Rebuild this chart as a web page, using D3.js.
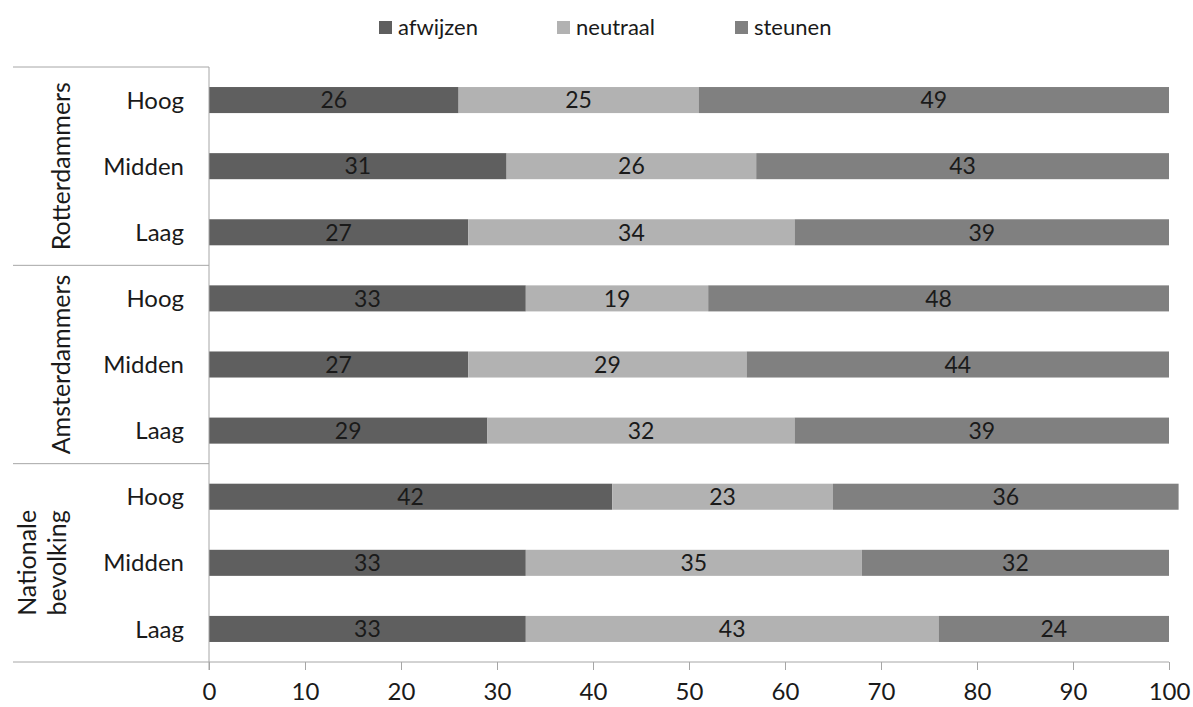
<!DOCTYPE html>
<html>
<head>
<meta charset="utf-8">
<script src="https://cdn.jsdelivr.net/npm/d3@7"></script>
<style>
  body { margin: 0; background: #fff; }
  svg { display: block; }
  text { font-family: Lato, "Open Sans", sans-serif; }
</style>
</head>
<body>
<svg id="chart" width="1193" height="707"></svg>
<script>
const groups = ["Rotterdammers", "Amsterdammers", "Nationale bevolking"];
const levels = ["Hoog", "Midden", "Laag"];
const seriesNames = ["afwijzen", "neutraal", "steunen"];
const seriesColors = ["#5f5f5f", "#b2b2b2", "#808080"];
const afwijzen = [26, 31, 27, 33, 27, 29, 42, 33, 33];
const neutraal = [25, 26, 34, 19, 29, 32, 23, 35, 43];
const steunen  = [49, 43, 39, 48, 44, 39, 36, 32, 24];
const xTicks = [0, 10, 20, 30, 40, 50, 60, 70, 80, 90, 100];

(function () {
const rows = [];
groups.forEach((g, gi) => levels.forEach((l, li) => {
  const i = gi * 3 + li;
  rows.push({ id: g + "|" + l, group: g, level: l, afwijzen: afwijzen[i], neutraal: neutraal[i], steunen: steunen[i] });
}));

const svg = d3.select("#chart");
const pL = 209, pR = 1169, pT = 67, pB = 662;
const x = d3.scaleLinear().domain([0, 100]).range([pL, pR]);
const y = d3.scaleBand().domain(rows.map(r => r.id)).range([pT, pB]).paddingInner(0.606).paddingOuter(0.303);
const color = d3.scaleOrdinal().domain(seriesNames).range(seriesColors);
const stack = d3.stack().keys(seriesNames)(rows);

// bars
const layers = svg.append("g").selectAll("g").data(stack).join("g").attr("fill", d => color(d.key));
layers.selectAll("rect").data(d => d).join("rect")
  .attr("x", d => x(d[0]))
  .attr("y", d => y(d.data.id))
  .attr("width", d => x(d[1]) - x(d[0]))
  .attr("height", y.bandwidth());

// value labels
stack.forEach(layer => {
  svg.append("g").selectAll("text").data(layer).join("text")
    .attr("x", d => (x(d[0]) + x(d[1])) / 2)
    .attr("y", d => y(d.data.id) + y.bandwidth() / 2)
    .attr("dy", "0.36em")
    .attr("text-anchor", "middle")
    .attr("font-size", 23)
    .attr("fill", "#1a1a1a")
    .text(d => d[1] - d[0]);
});

const axisColor = "#a6a6a6";
// x axis
const xAxis = svg.append("g").attr("transform", `translate(0,${pB})`)
  .call(d3.axisBottom(x).tickValues(xTicks).tickSize(8).tickPadding(13));
xAxis.select(".domain").remove();
xAxis.selectAll(".tick line").attr("stroke", axisColor);
xAxis.selectAll(".tick text").attr("font-size", 24).attr("fill", "#1a1a1a").attr("font-family", "Lato, sans-serif");

// vertical axis line
svg.append("line").attr("x1", pL).attr("x2", pL).attr("y1", pT).attr("y2", pB + 8).attr("stroke", axisColor);
// group separators
const rowStep = y.step();
const sepY = [0, 3, 6, 9].map(k => pT + k * rowStep);
svg.append("g").selectAll("line").data(sepY).join("line")
  .attr("x1", 13).attr("x2", (d, i) => i === 3 ? pR : pL)
  .attr("y1", d => d).attr("y2", d => d)
  .attr("stroke", axisColor);

// level labels
svg.append("g").selectAll("text").data(rows).join("text")
  .attr("x", 184)
  .attr("y", d => y(d.id) + y.bandwidth() / 2)
  .attr("dy", "0.36em")
  .attr("text-anchor", "end")
  .attr("font-size", 24)
  .attr("fill", "#1a1a1a")
  .text(d => d.level);

// group labels (rotated)
groups.forEach((g, gi) => {
  const cy = pT + (gi * 3 + 1.5) * rowStep;
  const words = g === "Nationale bevolking" ? ["Nationale", "bevolking"] : [g];
  const xs = words.length === 2 ? [36, 66] : [70];
  words.forEach((w, wi) => {
    svg.append("text")
      .attr("transform", `translate(${xs[wi]},${cy}) rotate(-90)`)
      .attr("text-anchor", "middle")
      .attr("font-size", 25)
      .attr("fill", "#1a1a1a")
      .text(w);
  });
});

// legend
const legendX = [379, 557, 735];
const legend = svg.append("g").selectAll("g").data(seriesNames).join("g")
  .attr("transform", (d, i) => `translate(${legendX[i]},0)`);
legend.append("rect").attr("x", 0).attr("y", 21).attr("width", 13).attr("height", 13).attr("fill", d => color(d));
legend.append("text").attr("x", 19).attr("y", 27).attr("dy", "0.36em")
  .attr("font-size", 22).attr("fill", "#1a1a1a").text(d => d);
})();
</script>
</body>
</html>
